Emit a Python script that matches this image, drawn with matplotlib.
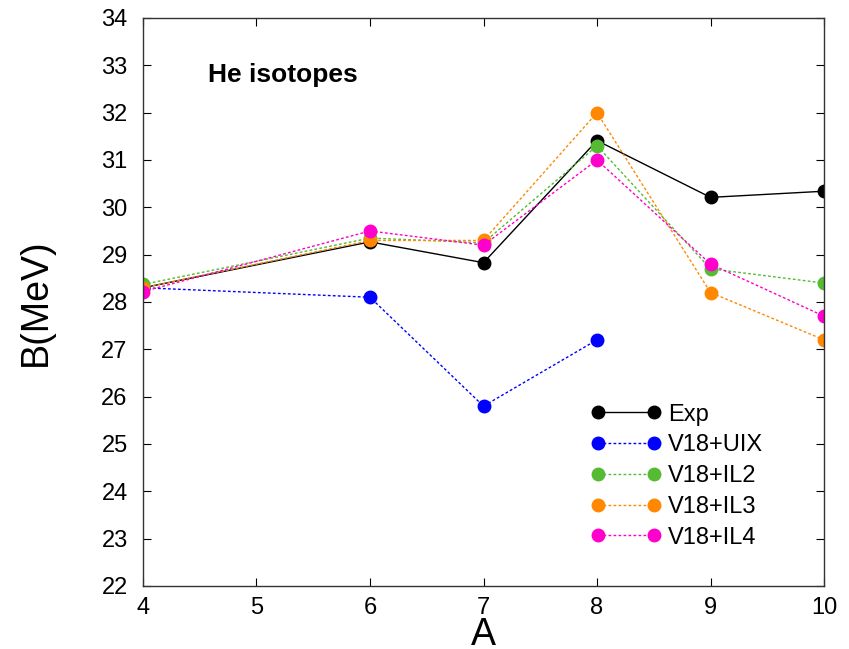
import matplotlib

matplotlib.use("Agg")

import matplotlib.pyplot as plt  # noqa: E402

plt.rcParams["font.family"] = ["Liberation Sans", "DejaVu Sans"]

mass_numbers = [4, 6, 7, 8, 9, 10]
exp_values = [28.30, 29.27, 28.83, 31.41, 30.21, 30.34]
uix_a = [4, 6, 7, 8]
uix_values = [28.30, 28.10, 25.80, 27.20]
il2_values = [28.37, 29.35, 29.25, 31.30, 28.70, 28.40]
il3_values = [28.30, 29.30, 29.30, 32.00, 28.20, 27.20]
il4_values = [28.22, 29.50, 29.20, 31.00, 28.80, 27.70]

x_ticks = [4, 5, 6, 7, 8, 9, 10]
y_ticks = list(range(22, 35))

_MARKER = 9
_DOTS = (0, (2, 1.6))

fig = plt.figure(figsize=(8.49, 6.49), dpi=100)
ax = fig.add_axes([0.1684, 0.0971, 0.8022, 0.8752])

ax.plot(mass_numbers, exp_values, color="black", lw=1.0, marker="o",
        markersize=_MARKER, label="Exp")
ax.plot(uix_a, uix_values, color="#0000ff", lw=1.0, ls=_DOTS, marker="o",
        markersize=_MARKER, label="V18+UIX")
ax.plot(mass_numbers, il2_values, color="#55bb33", lw=1.0, ls=_DOTS, marker="o",
        markersize=_MARKER, label="V18+IL2")
ax.plot(mass_numbers, il3_values, color="#ff8800", lw=1.0, ls=_DOTS, marker="o",
        markersize=_MARKER, label="V18+IL3")
ax.plot(mass_numbers, il4_values, color="#ff00cc", lw=1.0, ls=_DOTS, marker="o",
        markersize=_MARKER, label="V18+IL4")

ax.set_xlim(4, 10)
ax.set_ylim(22, 34)
ax.set_xticks(x_ticks)
ax.set_yticks(y_ticks)
ax.tick_params(direction="in", top=True, right=True, labelsize=17,
               length=6, width=0.8)
ax.tick_params(axis="x", pad=8)
ax.tick_params(axis="y", pad=11)
for spine in ax.spines.values():
    spine.set_linewidth(1.0)
    spine.set_color("#333333")

ax.set_xlabel("A", fontsize=27)
ax.xaxis.set_label_coords(0.5, -0.054)
ax.set_ylabel("B(MeV)", fontsize=27)
ax.yaxis.set_label_coords(-0.131, 0.5)

ax.text(0.0954, 0.887, "He isotopes", transform=ax.transAxes, fontsize=19,
        fontweight="bold", va="baseline")

ax.legend(loc="upper left", bbox_to_anchor=(0.657, 0.321), frameon=False,
          numpoints=2, fontsize=17, handlelength=3.0, labelspacing=0.37,
          handletextpad=0.3, borderpad=0, borderaxespad=0)

fig.savefig("out.png", dpi=100)
